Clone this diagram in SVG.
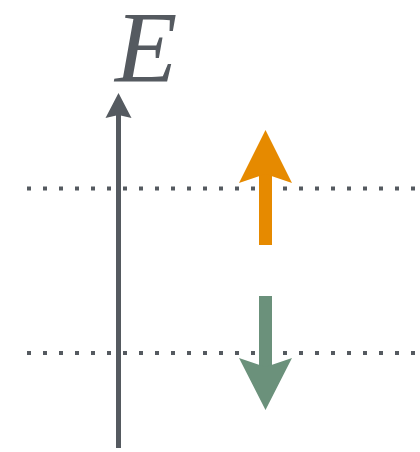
<svg xmlns="http://www.w3.org/2000/svg" width="420" height="452" viewBox="0 0 420 452">
<style>
.dot{stroke:#555a60;stroke-width:4;stroke-dasharray:4 12;fill:none}
.axis{stroke:#555a60;stroke-width:5;fill:none}
.lbl{font-family:"Liberation Serif","DejaVu Serif",serif;font-style:italic;font-size:102px;fill:#555a60}
</style>
<rect width="420" height="452" fill="#ffffff"/>
<g id="levels">
<line class="dot" x1="27" y1="188.5" x2="420" y2="188.5"/>
<line class="dot" x1="27" y1="353" x2="420" y2="353"/>
</g>
<g id="axis">
<line class="axis" x1="118.5" y1="448" x2="118.5" y2="112"/>
<polygon points="118.5,93 131.5,118 118.5,115 105.5,118" fill="#555a60"/>
<text class="lbl" x="115" y="82">E</text>
</g>
<g id="up-arrow">
<rect x="259" y="170" width="13" height="75" fill="#e68a00"/>
<polygon points="265.5,130 292,183 265.5,174 239,183" fill="#e68a00"/>
</g>
<g id="down-arrow">
<rect x="259" y="296" width="13" height="75" fill="#6b917b"/>
<polygon points="265.5,410 292,358 265.5,367 239,358" fill="#6b917b"/>
</g>
</svg>
